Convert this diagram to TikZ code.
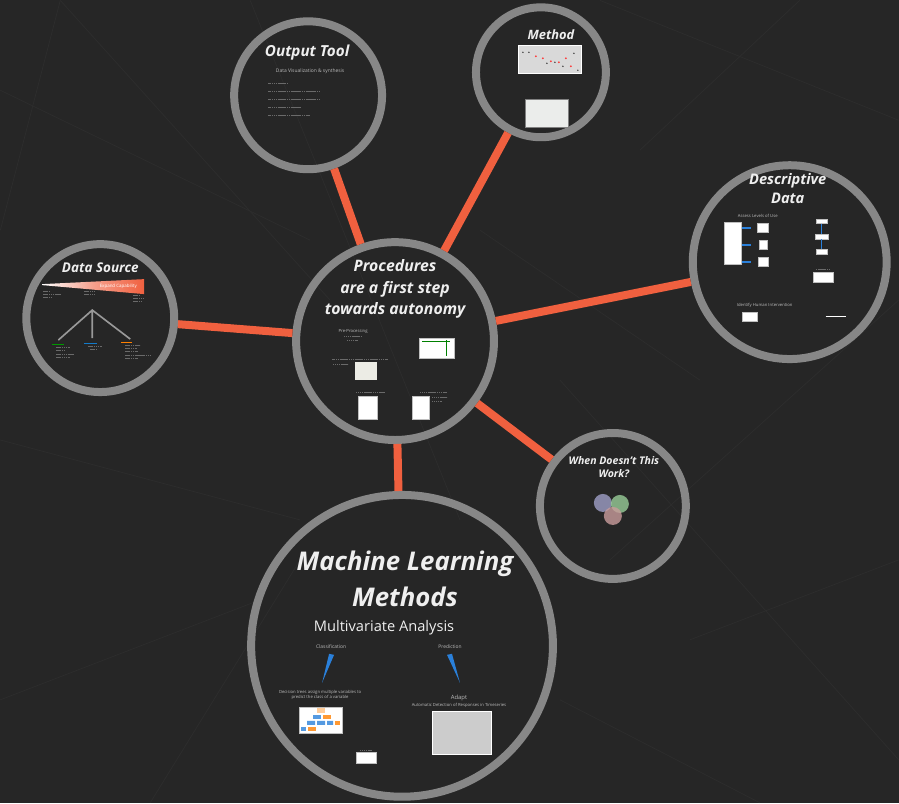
\documentclass[tikz,border=0pt]{standalone}
\usepackage{fontspec}
\setsansfont{Open Sans}
\usetikzlibrary{positioning}

\definecolor{bgdark}{HTML}{262626}
\definecolor{webline}{HTML}{2D2D2D}
\definecolor{ringgray}{HTML}{878787}
\definecolor{linkred}{HTML}{F0603F}
\definecolor{titlewhite}{HTML}{EFEFEF}
\definecolor{tinygray}{HTML}{BDBDBD}
\definecolor{barblue}{HTML}{2A80DA}

\begin{document}
\begin{tikzpicture}[
    x=0.03cm, y=-0.03cm,
    ring/.style={circle, draw=ringgray, line width=0.24cm, inner sep=0pt},
    link/.style={draw=linkred, line width=0.24cm},
    ttl/.style={text=titlewhite, align=center, inner sep=0pt,
        font=\sffamily\bfseries\itshape},
    tiny/.style={text=tinygray, align=center, inner sep=0pt,
        font=\sffamily\fontsize{3.6}{4.4}\selectfont},
    txtline/.style={draw=tinygray!45!bgdark, line width=0.4pt, dash pattern=on 1.2pt off 0.4pt},
    picbox/.style={fill=white, draw=gray!50, line width=0.3pt},
    venn/.style={circle, minimum size=0.54cm, inner sep=0pt, fill opacity=0.8}
    ]

% background and faint web
\fill[bgdark] (0,0) rectangle (899,803);
\foreach \a/\b in {{(0,90)/(310,240)}, {(0,440)/(300,520)}, {(60,0)/(330,300)},
    {(250,0)/(460,520)}, {(600,0)/(899,120)}, {(899,300)/(610,560)},
    {(560,380)/(899,760)}, {(0,700)/(260,600)}, {(690,640)/(899,560)},
    {(480,230)/(700,380)}, {(150,803)/(300,560)}, {(560,700)/(760,803)},
    {(0,230)/(60,0)}, {(640,150)/(800,0)}} {
    \draw[webline, line width=0.6pt] \a -- \b;
}

% the seven circles
\node[ring, minimum size=5.94cm] (proc) at (395,341) {};
\node[ring, minimum size=4.44cm] (out)  at (308,95)  {};
\node[ring, minimum size=3.90cm] (meth) at (541,72)  {};
\node[ring, minimum size=5.82cm] (desc) at (790,262) {};
\node[ring, minimum size=4.44cm] (src)  at (100,318) {};
\node[ring, minimum size=4.38cm] (when) at (613,506) {};
\node[ring, minimum size=9.06cm] (ml)   at (402,646) {};

% links from the hub
\draw[link] (proc) -- (out);
\draw[link] (proc) -- (meth);
\draw[link] (proc) -- (desc);
\draw[link] (proc) -- (src);
\draw[link] (proc) -- (when);
\draw[link] (proc) -- (ml);

% hub
\node[ttl, font=\sffamily\bfseries\itshape\fontsize{13.5}{18.5}\selectfont] (proct) at (395,289)
    {Procedures\\are a first step\\towards autonomy};
\node[tiny] (pre) at (353,331) {Pre-Processing};
\draw[txtline] (344,336) -- (362,336) (347,340) -- (358,340);
\node[picbox, minimum width=1.05cm, minimum height=0.6cm] (pimg1) at (437,348) {};
\draw[green!50!black, line width=0.3pt] (pimg1.north west) ++(3,3) -- ++(28,0) (446,340) -- (446,356);
\node[fill=yellow!15!gray!20, minimum width=0.66cm, minimum height=0.54cm, inner sep=0pt] (pimg2) at (366,371) {};
\draw[txtline] (332,359) -- (388,359) (333,364) -- (348,364);
\node[picbox, minimum width=0.57cm, minimum height=0.69cm, inner sep=0pt] (pimg3) at (368,408) {};
\node[picbox, minimum width=0.51cm, minimum height=0.69cm, inner sep=0pt] (pimg4) at (421,408) {};
\draw[txtline] (356,392) -- (385,392) (420,392) -- (447,392) (432,397) -- (447,397) (432,401) -- (442,401);

% output tool
\node[ttl, font=\sffamily\bfseries\itshape\fontsize{13}{16}\selectfont] (outt) at (307,52) {Output Tool};
\node[tiny, font=\sffamily\fontsize{4.2}{5}\selectfont] (vis) at (310,71) {Data Visualization \& synthesis};
\foreach \y/\w in {83/20, 91/52, 99/52, 107/32, 115/42} {
    \draw[txtline] (268,\y) -- ++(\w,0);
}

% method
\node[ttl, font=\sffamily\bfseries\itshape\fontsize{11}{14}\selectfont] (metht) at (551,34) {Method};
\node[fill=gray!30, draw=white, line width=0.3pt, minimum width=1.9cm, minimum height=0.84cm, inner sep=0pt]
    (mimg1) at (550,59) {};
\foreach \p in {(536,56), (543,58), (551,61), (559,62), (566,58), (571,66)} {
    \fill[red!80] \p circle (1);
}
\foreach \p in {(523,52), (529,52), (547,63), (555,62), (563,66), (574,53), (578,70)} {
    \fill[black!80] \p circle (0.8);
}
\node[fill=green!6!gray!15, draw=gray, line width=0.3pt, minimum width=1.29cm, minimum height=0.84cm, inner sep=0pt]
    (mimg2) at (547,113) {};

% descriptive data
\node[ttl, font=\sffamily\bfseries\itshape\fontsize{12.5}{16}\selectfont] (desct) at (788,188) {Descriptive\\Data};
\node[tiny] (assess) at (758,216) {Assess Levels of Use};
\node[picbox, minimum width=0.5cm, minimum height=1.26cm, inner sep=0pt] (dtall) at (733,243) {};
\foreach \y/\w in {228/0.33, 245/0.24, 262/0.3} {
    \node[picbox, minimum width=\w cm, minimum height=0.27cm, inner sep=0pt] (dbox\y) at (763,\y) {};
    \draw[barblue, line width=1.2pt] (dtall.east |- dbox\y) ++(1,0) -- ++(9,0);
}
\node[picbox, minimum width=0.33cm, minimum height=0.15cm, inner sep=0pt] (dr1) at (822,221) {};
\node[picbox, minimum width=0.39cm, minimum height=0.15cm, inner sep=0pt, below=0.3cm of dr1] (dr2) {};
\node[picbox, minimum width=0.33cm, minimum height=0.15cm, inner sep=0pt, below=0.3cm of dr2] (dr3) {};
\draw[barblue, line width=1.2pt] (dr1) -- (dr2) (dr2) -- (dr3);
\node[picbox, minimum width=0.6cm, minimum height=0.3cm, inner sep=0pt] (dkey) at (823,277) {};
\draw[txtline] (816,269) -- (830,269);
\node[tiny] (ident) at (765,305) {Identify Human Intervention};
\node[picbox, minimum width=0.45cm, minimum height=0.27cm, inner sep=0pt] (dhum) at (750,317) {};
\draw[white, line width=0.4pt] (826,316) -- (846,316);

% data source
\node[ttl, font=\sffamily\bfseries\itshape\fontsize{11.5}{14}\selectfont] (srct) at (100,268) {Data Source};
\shade[left color=white, right color=linkred, middle color=linkred!60!white]
    (42,284) -- (144,279) -- (144,294) -- (42,285) -- cycle;
\node[text=white, inner sep=0pt, font=\sffamily\fontsize{3.8}{4.4}\selectfont] (expand) at (118,286) {Expand Capability};
\draw[txtline] (43,291) -- (49,291) (43,294) -- (60,294) (43,297) -- (52,297)
    (84,291) -- (94,291) (84,294) -- (95,294)
    (133,295) -- (139,295) (133,298) -- (144,298) (133,301) -- (142,301);
\coordinate (troot) at (92,310);
\coordinate (tleft) at (58,340);
\coordinate (tmid) at (92,338);
\coordinate (tright) at (130,339);
\draw[gray!80!white, line width=1.4pt] (tleft) -- (troot) -- (tright) (troot) -- (tmid);
\draw[green!60!black, line width=0.5pt] (52,344) -- (64,344);
\draw[cyan!60!blue, line width=0.5pt] (84,343) -- (97,343);
\draw[orange, line width=0.5pt] (121,342) -- (132,342);
\draw[txtline] (56,347) -- (70,347) (56,350) -- (65,350) (56,354) -- (73,354) (56,357) -- (70,357)
    (88,346) -- (102,346) (90,349) -- (96,349)
    (125,345) -- (140,345) (125,348) -- (137,348) (125,351) -- (138,351) (125,355) -- (150,355) (125,358) -- (138,358);

% when doesn't this work
\node[ttl, font=\sffamily\bfseries\itshape\fontsize{9}{11.5}\selectfont] (whent) at (614,467)
    {When Doesn't This\\Work?};
\node[venn, fill=blue!25!gray!60!white] (vblue) at (603,503) {};
\node[venn, fill=green!35!gray!60!white] (vgreen) at (620,504) {};
\node[venn, fill=red!30!gray!60!white] (vred) at (613,516) {};

% machine learning methods
\node[ttl, font=\sffamily\bfseries\itshape\fontsize{22}{30}\selectfont] (mlt) at (405,579)
    {Machine Learning\\Methods};
\node[text=titlewhite, inner sep=0pt, font=\sffamily\fontsize{12.5}{15}\selectfont] (multi) at (384,628)
    {Multivariate Analysis};
\node[tiny, font=\sffamily\fontsize{4.2}{5}\selectfont] (classif) at (331,647) {Classification};
\node[tiny, font=\sffamily\fontsize{4.2}{5}\selectfont] (predict) at (450,647) {Prediction};
\fill[barblue] (329,654) -- (334,655) -- (322,683) -- cycle;
\fill[barblue] (447,655) -- (452,654) -- (460,683) -- cycle;
\node[tiny] (dtree) at (320,695)
    {Decision trees assign multiple variables to\\predict the class of a variable};
\node[picbox, minimum width=1.29cm, minimum height=0.78cm, inner sep=0pt] (mlimg) at (321,720) {};
\fill[orange!40] (317,708) rectangle (325,713);
\fill[barblue!80] (313,715) rectangle (321,719);
\fill[orange!80] (323,715) rectangle (331,719);
\fill[barblue!80] (307,721) rectangle (315,725) (317,721) rectangle (325,725) (327,721) rectangle (333,725);
\fill[orange!80] (335,721) rectangle (340,725);
\fill[barblue!80] (301,727) rectangle (306,731);
\fill[orange!80] (308,727) rectangle (316,731);
\node[text=tinygray, inner sep=0pt, font=\sffamily\fontsize{5}{6}\selectfont] (adapt) at (459,698) {Adapt};
\node[tiny] (autodet) at (459,706) {Automatic Detection of Responses in Timeseries};
\node[fill=gray!40!white, draw=white!80, line width=0.3pt, minimum width=1.77cm, minimum height=1.29cm, inner sep=0pt]
    (mlgray) at (462,733) {};
\node[picbox, minimum width=0.6cm, minimum height=0.33cm, inner sep=0pt] (mlsmall) at (366,758) {};
\draw[txtline] (360,750) -- (372,750);
\end{tikzpicture}
\end{document}
